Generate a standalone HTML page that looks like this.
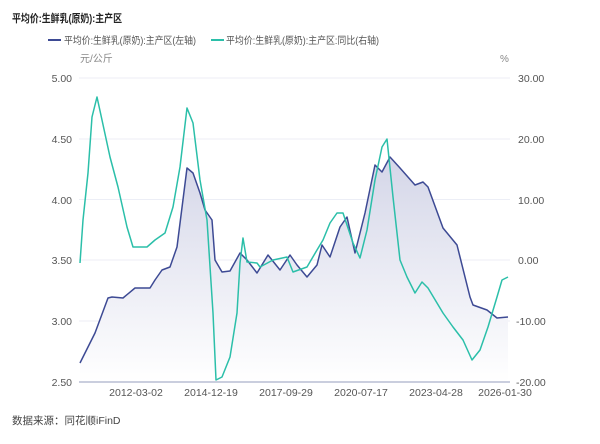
<!DOCTYPE html>
<html><head><meta charset="utf-8"><style>
body{margin:0;background:#fff;}
svg text{font-family:"Liberation Sans","Noto Sans CJK SC",sans-serif;}
</style></head><body>
<svg width="600" height="439" xmlns="http://www.w3.org/2000/svg">
<defs><linearGradient id="g" x1="0" y1="0" x2="0" y2="1">
<stop offset="0" stop-color="#d4d6e8"/><stop offset="1" stop-color="#ffffff"/></linearGradient></defs>
<text x="12" y="22" font-size="11" font-weight="bold" fill="#222" textLength="110" lengthAdjust="spacingAndGlyphs">平均价:生鲜乳(原奶):主产区</text>
<line x1="48" y1="40" x2="61" y2="40" stroke="#3d4a94" stroke-width="2"/>
<text x="64" y="44" font-size="10" fill="#555" textLength="132" lengthAdjust="spacingAndGlyphs">平均价:生鲜乳(原奶):主产区(左轴)</text>
<line x1="211" y1="40" x2="224" y2="40" stroke="#2bbfa9" stroke-width="2"/>
<text x="226" y="44" font-size="10" fill="#555" textLength="153" lengthAdjust="spacingAndGlyphs">平均价:生鲜乳(原奶):主产区:同比(右轴)</text>
<text x="80" y="62" font-size="10" fill="#888">元/公斤</text>
<text x="500" y="62" font-size="10" fill="#888">%</text>
<g stroke="#eceef6" stroke-width="1">
<line x1="79" y1="78" x2="510" y2="78"/><line x1="79" y1="139" x2="510" y2="139"/>
<line x1="79" y1="199.5" x2="510" y2="199.5"/><line x1="79" y1="260" x2="510" y2="260"/>
<line x1="79" y1="321" x2="510" y2="321"/></g>
<g font-size="10.5" fill="#555" text-anchor="end">
<text x="72" y="82">5.00</text><text x="72" y="143">4.50</text><text x="72" y="204">4.00</text>
<text x="72" y="264">3.50</text><text x="72" y="325">3.00</text><text x="72" y="386">2.50</text></g>
<g font-size="10.5" fill="#555">
<text x="518" y="82">30.00</text><text x="518" y="143">20.00</text><text x="518" y="204">10.00</text>
<text x="518" y="264">0.00</text><text x="516" y="325">-10.00</text><text x="516" y="386">-20.00</text></g>
<g font-size="10.5" fill="#555" text-anchor="middle">
<text x="136" y="396">2012-03-02</text><text x="211" y="396">2014-12-19</text><text x="286" y="396">2017-09-29</text>
<text x="361" y="396">2020-07-17</text><text x="436" y="396">2023-04-28</text><text x="505" y="396">2026-01-30</text></g>
<path d="M80,363 L85,353 L95,333 L108,298 L112,297 L123,298 L135,288 L150,288 L155,280 L162,270 L170,267 L177,247 L187,168 L193,173 L200,193 L205,210 L212,220 L215,260 L222,272 L230,271 L240,253 L247,260 L257,273 L268,255 L280,270 L290,255 L297,265 L307,277 L317,265 L322,245 L330,257 L340,227 L347,217 L355,253 L365,213 L375,165 L382,172 L390,157 L400,168 L415,185 L423,182 L428,187 L443,228 L457,245 L470,297 L473,305 L487,310 L497,318 L508,317 L508,382 L80,382 Z" fill="url(#g)"/>
<line x1="79" y1="382" x2="510" y2="382" stroke="#b8bdd4" stroke-width="1.5"/>
<path d="M80,363 L85,353 L95,333 L108,298 L112,297 L123,298 L135,288 L150,288 L155,280 L162,270 L170,267 L177,247 L187,168 L193,173 L200,193 L205,210 L212,220 L215,260 L222,272 L230,271 L240,253 L247,260 L257,273 L268,255 L280,270 L290,255 L297,265 L307,277 L317,265 L322,245 L330,257 L340,227 L347,217 L355,253 L365,213 L375,165 L382,172 L390,157 L400,168 L415,185 L423,182 L428,187 L443,228 L457,245 L470,297 L473,305 L487,310 L497,318 L508,317" fill="none" stroke="#3d4a94" stroke-width="1.5" stroke-linejoin="round"/>
<path d="M80,263 L83,220 L88,173 L92,117 L97,97 L102,120 L110,157 L118,187 L127,227 L133,247 L147,247 L155,240 L165,233 L173,207 L180,167 L187,108 L193,123 L200,180 L207,220 L213,313 L216,380 L222,377 L230,357 L237,313 L240,263 L243,238 L247,262 L257,263 L260,267 L273,260 L287,257 L293,272 L307,267 L317,250 L323,240 L330,223 L337,213 L343,213 L353,243 L360,258 L367,230 L375,180 L382,147 L387,139 L393,197 L400,260 L407,277 L415,293 L422,282 L428,288 L443,313 L453,327 L463,340 L472,360 L480,350 L488,327 L497,297 L502,280 L508,277" fill="none" stroke="#2bbfa9" stroke-width="1.5" stroke-linejoin="round"/>
<text x="12" y="424" font-size="10.5" fill="#444">数据来源：同花顺iFinD</text>
</svg>
</body></html>
